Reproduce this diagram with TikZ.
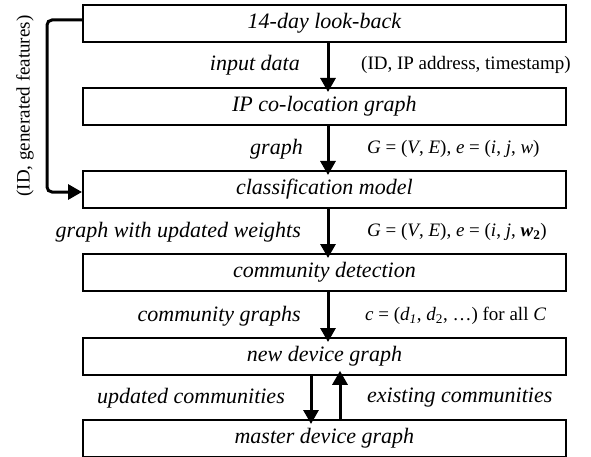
\documentclass[tikz,border=0pt]{standalone}
\usepackage{fontspec}
\setmainfont{Liberation Serif}
\usetikzlibrary{arrows.meta}
\begin{document}
\begin{tikzpicture}[x=1pt,y=-1pt,
  stagebox/.style={draw,line width=1.8pt,minimum width=483pt,minimum height=37pt,inner sep=0pt,anchor=north west,font=\fontsize{22}{24}\selectfont\itshape},
  flow/.style={line width=3pt,-{Triangle[width=15pt,length=14pt]}},
  lefttag/.style={anchor=east,inner sep=0pt,font=\fontsize{22}{24}\selectfont\itshape},
  righttag/.style={anchor=west,inner sep=0pt,font=\fontsize{19}{21}\selectfont},
  ]
\useasboundingbox (0,0) rectangle (591,457);
% processing stages
\node[stagebox] (s1) at (82,4)   {14-day look-back};
\node[stagebox] (s2) at (82,87)  {IP co-location graph};
\node[stagebox] (s3) at (82,170) {classification model};
\node[stagebox] (s4) at (82,253) {community detection};
\node[stagebox] (s5) at (82,337) {new device graph};
\node[stagebox] (s6) at (82,419) {master device graph};
% data flow between stages
\coordinate (a1) at (328,0 |- s1.south);
\coordinate (b1) at (328,0 |- s2.north);
\draw[flow] ([yshift=1pt]a1) -- ([yshift=-5pt]b1);
\coordinate (a2) at (328,0 |- s2.south);
\coordinate (b2) at (328,0 |- s3.north);
\draw[flow] ([yshift=1pt]a2) -- ([yshift=-5pt]b2);
\coordinate (a3) at (328,0 |- s3.south);
\coordinate (b3) at (328,0 |- s4.north);
\draw[flow] ([yshift=1pt]a3) -- ([yshift=-5pt]b3);
\coordinate (a4) at (328,0 |- s4.south);
\coordinate (b4) at (328,0 |- s5.north);
\draw[flow] ([yshift=1pt]a4) -- ([yshift=-5pt]b4);
\coordinate (a5) at (311,0 |- s5.south);
\coordinate (b5) at (311,0 |- s6.north);
\draw[flow] ([yshift=1pt]a5) -- ([yshift=-5pt]b5);
\coordinate (c5) at (340,0 |- s6.north);
\coordinate (d5) at (340,0 |- s5.south);
\draw[flow] ([yshift=-1pt]c5) -- ([yshift=5pt]d5);
% feedback of generated features
\coordinate (f0) at (82,20);
\coordinate (f1) at (47,20);
\coordinate (f2) at (47,192);
\coordinate (f3) at (82,192);
\draw[line width=3pt,rounded corners=5pt,-{Triangle[width=15pt,length=14pt]}]
  (f0) -- (f1) -- (f2) -- (f3);
\node[rotate=90,inner sep=0pt,font=\fontsize{19}{21}\selectfont] (fb) at (25,106) {(ID, generated features)};
% edge annotations
\node[lefttag] (l1) at (300,65) {input data};
\node[righttag] (r1) at (361,65) {(ID, IP address, timestamp)};
\node[lefttag] (l2) at (303,149) {graph};
\node[righttag] (r2) at (367,149) {\textit{G} = (\textit{V}, \textit{E}), \textit{e} = (\textit{i}, \textit{j}, \textit{w})};
\node[lefttag] (l3) at (301,232) {graph with updated weights};
\node[righttag] (r3) at (367,232) {\textit{G} = (\textit{V}, \textit{E}), \textit{e} = (\textit{i}, \textit{j}, \textbf{\textit{w}\textsubscript{2}})};
\node[lefttag] (l4) at (301,316) {community graphs};
\node[righttag] (r4) at (365,316) {\textit{c} = (\textit{d}\textsubscript{\textit{1}}, \textit{d}\textsubscript{2}, \ldots) for all \textit{C}};
\node[lefttag] (l5) at (285,398) {updated communities};
\node[righttag,font=\fontsize{22}{24}\selectfont\itshape] (r5) at (367,398) {existing communities};
\end{tikzpicture}
\end{document}
